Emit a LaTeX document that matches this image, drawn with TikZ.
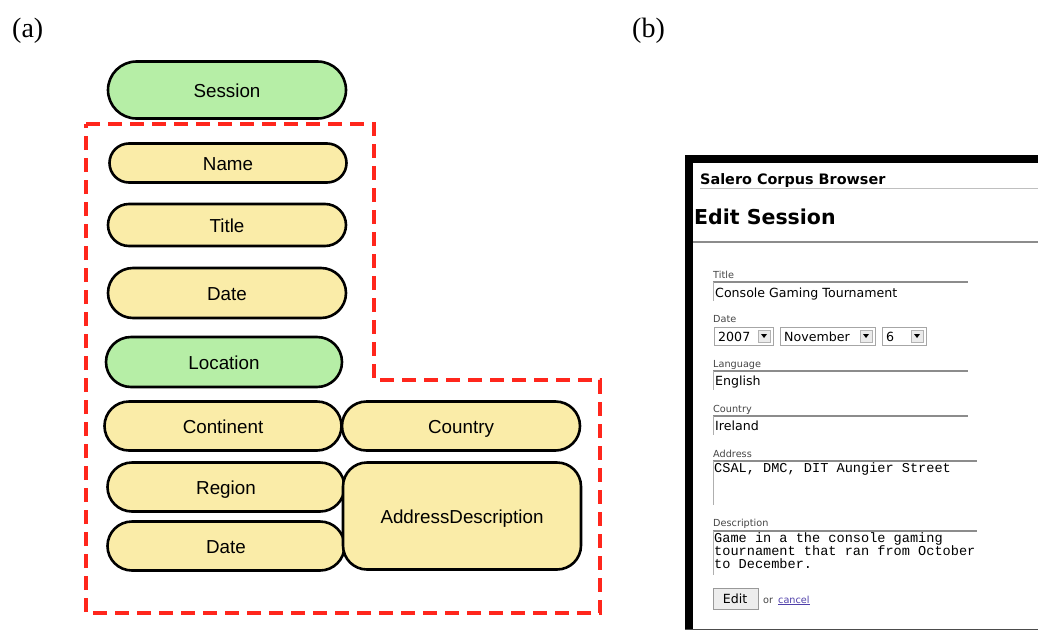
\documentclass[tikz,border=0pt]{standalone}
\usepackage{fontspec}
\setmainfont{Liberation Serif}
\setsansfont{Liberation Sans}
\setmonofont{Liberation Mono}
\newfontfamily\webfont{DejaVu Sans}
\usetikzlibrary{shapes.misc}
\definecolor{pillyellow}{RGB}{250,236,168}
\definecolor{pillgreen}{RGB}{182,238,166}
\definecolor{dashred}{RGB}{255,38,28}
\definecolor{fieldgray}{RGB}{140,140,140}
\definecolor{labelgray}{RGB}{70,70,70}
\definecolor{linkblue}{RGB}{80,64,170}

\tikzset{
  pill/.style={rounded rectangle,draw=black,line width=2.6pt,fill=pillyellow,
    inner sep=0pt,text height=16pt,text depth=1pt,
    font=\sffamily\fontsize{18.8}{19}\selectfont},
  greenpill/.style={pill,fill=pillgreen},
  dashbox/.style={draw=dashred,line width=3.6pt,dash pattern=on 14pt off 8pt},
  panel/.style={font=\fontsize{28}{28}\selectfont,inner sep=0pt,anchor=base west},
  weblabel/.style={anchor=base west,inner sep=0pt,text=labelgray,
    font=\webfont\fontsize{9.7}{10}\selectfont},
  webtext/.style={anchor=base west,inner sep=0pt,
    font=\webfont\fontsize{12.6}{13}\selectfont},
  field/.style={draw=fieldgray,line width=1.8pt},
  fieldside/.style={draw=fieldgray!70,line width=1pt}
}

\begin{document}
\begin{tikzpicture}[x=1pt,y=-1pt]
\fill[white] (0,0) rectangle (1038,632);
\useasboundingbox (0,0) rectangle (1038,632);

\node[panel] (pa) at (12,37) {(a)};
\node[panel] (pb) at (632,37) {(b)};

\draw[dashbox] (86,124) -- (374,124) -- (374,380) -- (600,380) -- (600,613) -- (86,613) -- cycle;

\node[greenpill,minimum width=238pt,minimum height=57pt] (session) at (227,90) {Session};
\node[pill,minimum width=237pt,minimum height=39pt] (name) at (228,163) {Name};
\node[pill,minimum width=238pt,minimum height=42pt] (title) at (227,225) {Title};
\node[pill,minimum width=238pt,minimum height=50pt] (date) at (227,293) {Date};
\node[greenpill,minimum width=236pt,minimum height=50pt] (location) at (224,362) {Location};
\node[pill,minimum width=237pt,minimum height=49pt] (continent) at (223,426) {Continent};
\node[pill,minimum width=238pt,minimum height=49pt] (country) at (461,426) {Country};
\node[pill,minimum width=237pt,minimum height=49pt] (region) at (226,487) {Region};
\node[pill,minimum width=237pt,minimum height=49pt] (sdate) at (226,546) {Date};
\node[pill,rectangle,rounded corners=24pt,minimum width=238pt,minimum height=107pt]
  (address) at (462,516) {AddressDescription};

% screenshot
\fill[black] (685,155) rectangle (1038,163);
\fill[black] (685,155) rectangle (693,630);
\draw[black!70,line width=1.2pt] (685,629.5) -- (1038,629.5);
\draw[black!25,line width=1pt] (700,188) -- (1038,188);
\draw[black!45,line width=1.2pt] (693,242) -- (1038,242);

\node[anchor=base west,inner sep=0pt,font=\webfont\bfseries\fontsize{14.4}{15}\selectfont]
  (browser) at (700,184) {Salero Corpus Browser};
\node[anchor=base west,inner sep=0pt,font=\webfont\bfseries\fontsize{20.5}{21}\selectfont]
  (heading) at (694,224) {Edit Session};

\node[weblabel] (ltitle) at (713,278) {Title};
\draw[field] (713,282) -- (968,282);
\draw[fieldside] (713,282) -- (713,301);
\node[webtext] (vtitle) at (715,297) {Console Gaming Tournament};

\node[weblabel] (ldate) at (713,322) {Date};
\foreach \xa/\xb/\val/\nm in {714/773/2007/year,780/875/November/month,882/926/6/day}{
  \draw[black!35,line width=1pt,fill=white] (\xa,327) rectangle (\xb,345);
  \draw[black!30,fill=black!8] (\xb-15,330) rectangle (\xb-3,342);
  \fill (\xb-12,334) -- (\xb-6,334) -- (\xb-9,338) -- cycle;
  \node[webtext] (\nm) at (\xa+4,341) {\val};
}

\node[weblabel] (llang) at (713,367) {Language};
\draw[field] (713,371) -- (968,371);
\draw[fieldside] (713,371) -- (713,390);
\node[webtext] (vlang) at (715,385) {English};

\node[weblabel] (lcountry) at (713,412) {Country};
\draw[field] (713,416) -- (968,416);
\draw[fieldside] (713,416) -- (713,435);
\node[webtext] (vcountry) at (715,430) {Ireland};

\node[weblabel] (laddr) at (713,457) {Address};
\draw[field] (713,461) -- (977,461);
\draw[fieldside] (713,461) -- (713,505);
\node[anchor=base west,inner sep=0pt,font=\ttfamily\fontsize{13.6}{13}\selectfont]
  (vaddr) at (714,472) {CSAL, DMC, DIT Aungier Street};

\node[weblabel] (ldesc) at (713,526) {Description};
\draw[field] (713,531) -- (977,531);
\draw[fieldside] (713,531) -- (713,575);
\node[anchor=north west,inner sep=0pt,align=left,font=\ttfamily\fontsize{13.6}{13}\selectfont]
  (vdesc) at (714,532) {Game in a the console gaming\\tournament that ran from October\\to December.};

\filldraw[fill=black!7,draw=black!40,line width=1pt] (713,588) rectangle (758,609);
\node[webtext] (edit) at (735,603) [anchor=base] {Edit};
\node[anchor=base west,inner sep=0pt,text=labelgray,font=\webfont\fontsize{9.7}{10}\selectfont]
  (or) at (763,603) {or};
\node[anchor=base west,inner sep=0pt,text=linkblue,font=\webfont\fontsize{9.7}{10}\selectfont]
  (cancel) at (778,603) {\underline{cancel}};
\end{tikzpicture}
\end{document}
